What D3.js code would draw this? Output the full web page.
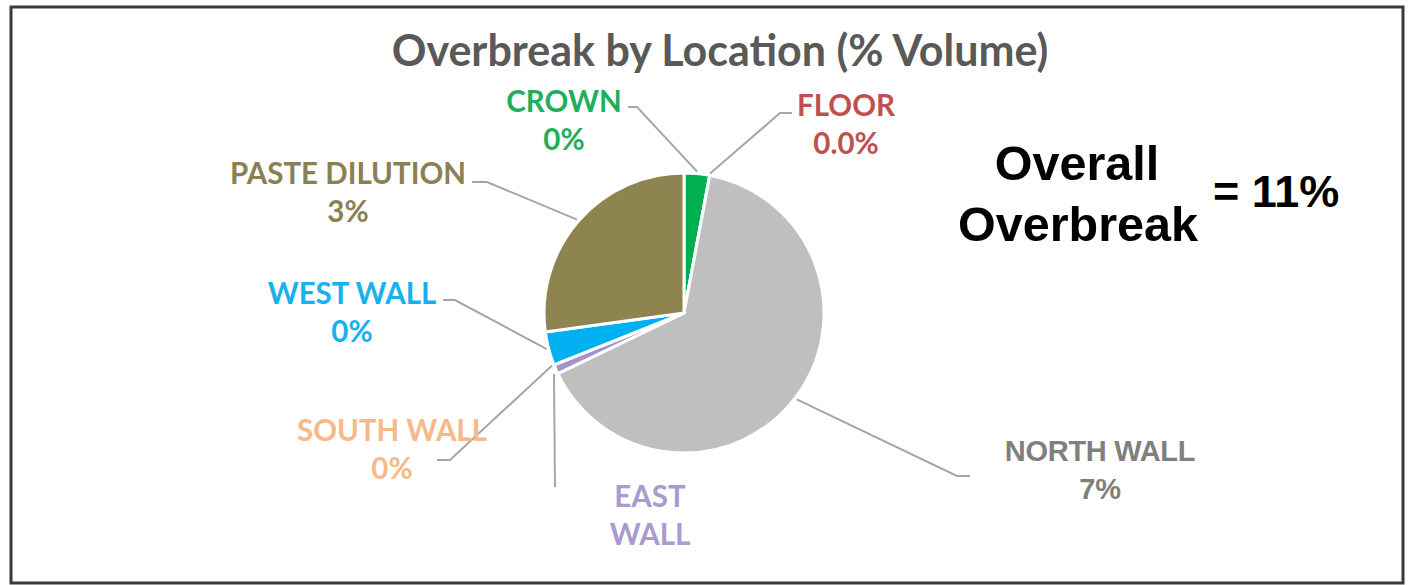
<!DOCTYPE html>
<html>
<head>
<meta charset="utf-8">
<script src="https://cdn.jsdelivr.net/npm/d3@7"></script>
<style>
  html, body { margin: 0; padding: 0; background: #fff; }
  svg { display: block; }
</style>
</head>
<body>
<svg id="chart" width="1417" height="585"></svg>
<script>
// Overbreak volume by location, % of stope volume (clockwise from 12 o'clock)
const locations = ["CROWN", "FLOOR", "NORTH WALL", "EAST WALL", "SOUTH WALL", "WEST WALL", "PASTE DILUTION"];
const overbreakPct = [0.32, 0.0, 7.05, 0.12, 0.0, 0.42, 2.95];
const valueFormats = [".0f", ".1f", ".0f", null, ".0f", ".0f", ".0f"];
const sliceColors = ["#00b050", "#c0504d", "#bfbfbf", "#a393cc", "#fac090", "#00b0f0", "#8e8450"];
const labelColors = ["#1fae5c", "#c0504d", "#7f7f7f", "#a99bcf", "#f6b98a", "#16b1ee", "#8a8052"];
const overallOverbreak = 11;

// Label placement: elbow point of the leader, leader end, label centre
const labelLayout = [
  { elbow: [637, 107], end: [628, 107], cx: 564, y: 102, font: "cal" },
  { elbow: [780, 113], end: [792, 113], cx: 846, y: 106, font: "cal" },
  { elbow: [957, 476], end: [970, 476], cx: 1100, y: 451, font: "arial" },
  { elbow: null, end: [555, 487], cx: 650, y: 497, font: "cal", split: true },
  { elbow: [450, 460], end: [437, 460], cx: 392, y: 431, font: "cal" },
  { elbow: [455, 300], end: [443, 300], cx: 352, y: 294, font: "cal" },
  { elbow: [487, 182], end: [472, 182], cx: 348, y: 174, font: "cal" }
];

const svg = d3.select("#chart");

// Outer frame
svg.append("rect")
  .attr("x", 11).attr("y", 7)
  .attr("width", 1392).attr("height", 576)
  .attr("fill", "#fff")
  .attr("stroke", "#3a3a3a")
  .attr("stroke-width", 3);

// Title
svg.append("text")
  .attr("x", 720).attr("y", 66)
  .attr("text-anchor", "middle")
  .attr("font-family", "Lato, 'Open Sans', sans-serif")
  .attr("font-weight", 700)
  .attr("font-size", 43)
  .attr("fill", "#595959")
  .text("Overbreak by Location (% Volume)");

// Pie
const cx = 684, cy = 313, R = 140;
const rows = locations.map((name, i) => ({ name, value: overbreakPct[i], i }));
const pie = d3.pie().sort(null).value(d => d.value).startAngle(0).endAngle(2 * Math.PI);
const arcs = pie(rows);
const arc = d3.arc().innerRadius(0).outerRadius(R);
const g = svg.append("g").attr("transform", `translate(${cx},${cy})`);

g.selectAll("path.slice")
  .data(arcs)
  .join("path")
  .attr("class", "slice")
  .attr("d", arc)
  .attr("fill", d => sliceColors[d.data.i])
  .attr("stroke", "#fff")
  .attr("stroke-width", 3)
  .attr("stroke-linejoin", "round");

// Leader lines from the slice mid-angle on the rim
const rimArc = d3.arc().innerRadius(R + 2).outerRadius(R + 2);
const leaders = svg.append("g");
arcs.forEach(d => {
  const lay = labelLayout[d.data.i];
  const c = rimArc.centroid(d);
  const start = [cx + c[0], cy + c[1]];
  const pts = lay.elbow ? [start, lay.elbow, lay.end] : [[start[0], start[1] + 4], lay.end];
  leaders.append("path")
    .attr("d", d3.line()(pts))
    .attr("fill", "none")
    .attr("stroke", "#a6a6a6")
    .attr("stroke-width", 2);
});

// Data labels
const labels = svg.append("g");
arcs.forEach(d => {
  const i = d.data.i;
  const lay = labelLayout[i];
  const isArial = lay.font === "arial";
  const t = labels.append("text")
    .attr("text-anchor", "middle")
    .attr("font-family", isArial ? "'Liberation Sans', Arial, sans-serif" : "Lato, 'Open Sans', sans-serif")
    .attr("font-weight", 700)
    .attr("font-size", isArial ? 29 : 29.5)
    .attr("letter-spacing", isArial ? -0.3 : 0)
    .attr("fill", labelColors[i]);
  const lines = lay.split ? d.data.name.split(" ") : [d.data.name];
  if (valueFormats[i]) lines.push(d3.format(valueFormats[i])(d.data.value) + "%");
  lines.forEach((s, k) => {
    t.append("tspan")
      .attr("x", lay.cx)
      .attr("y", lay.y + k * 38)
      .attr("dy", "0.35em")
      .text(s);
  });
});

// Overall overbreak callout
const callout = svg.append("g")
  .attr("font-family", "'Liberation Sans', Arial, sans-serif")
  .attr("font-weight", 700)
  .attr("fill", "#000");
callout.append("text").attr("x", 1077).attr("y", 180).attr("text-anchor", "middle")
  .attr("font-size", 48.5).text("Overall");
callout.append("text").attr("x", 1078).attr("y", 241).attr("text-anchor", "middle")
  .attr("font-size", 48.5).text("Overbreak");
callout.append("text").attr("x", 1213).attr("y", 207).attr("text-anchor", "start")
  .attr("font-size", 45).text(`= ${overallOverbreak}%`);
</script>
</body>
</html>
